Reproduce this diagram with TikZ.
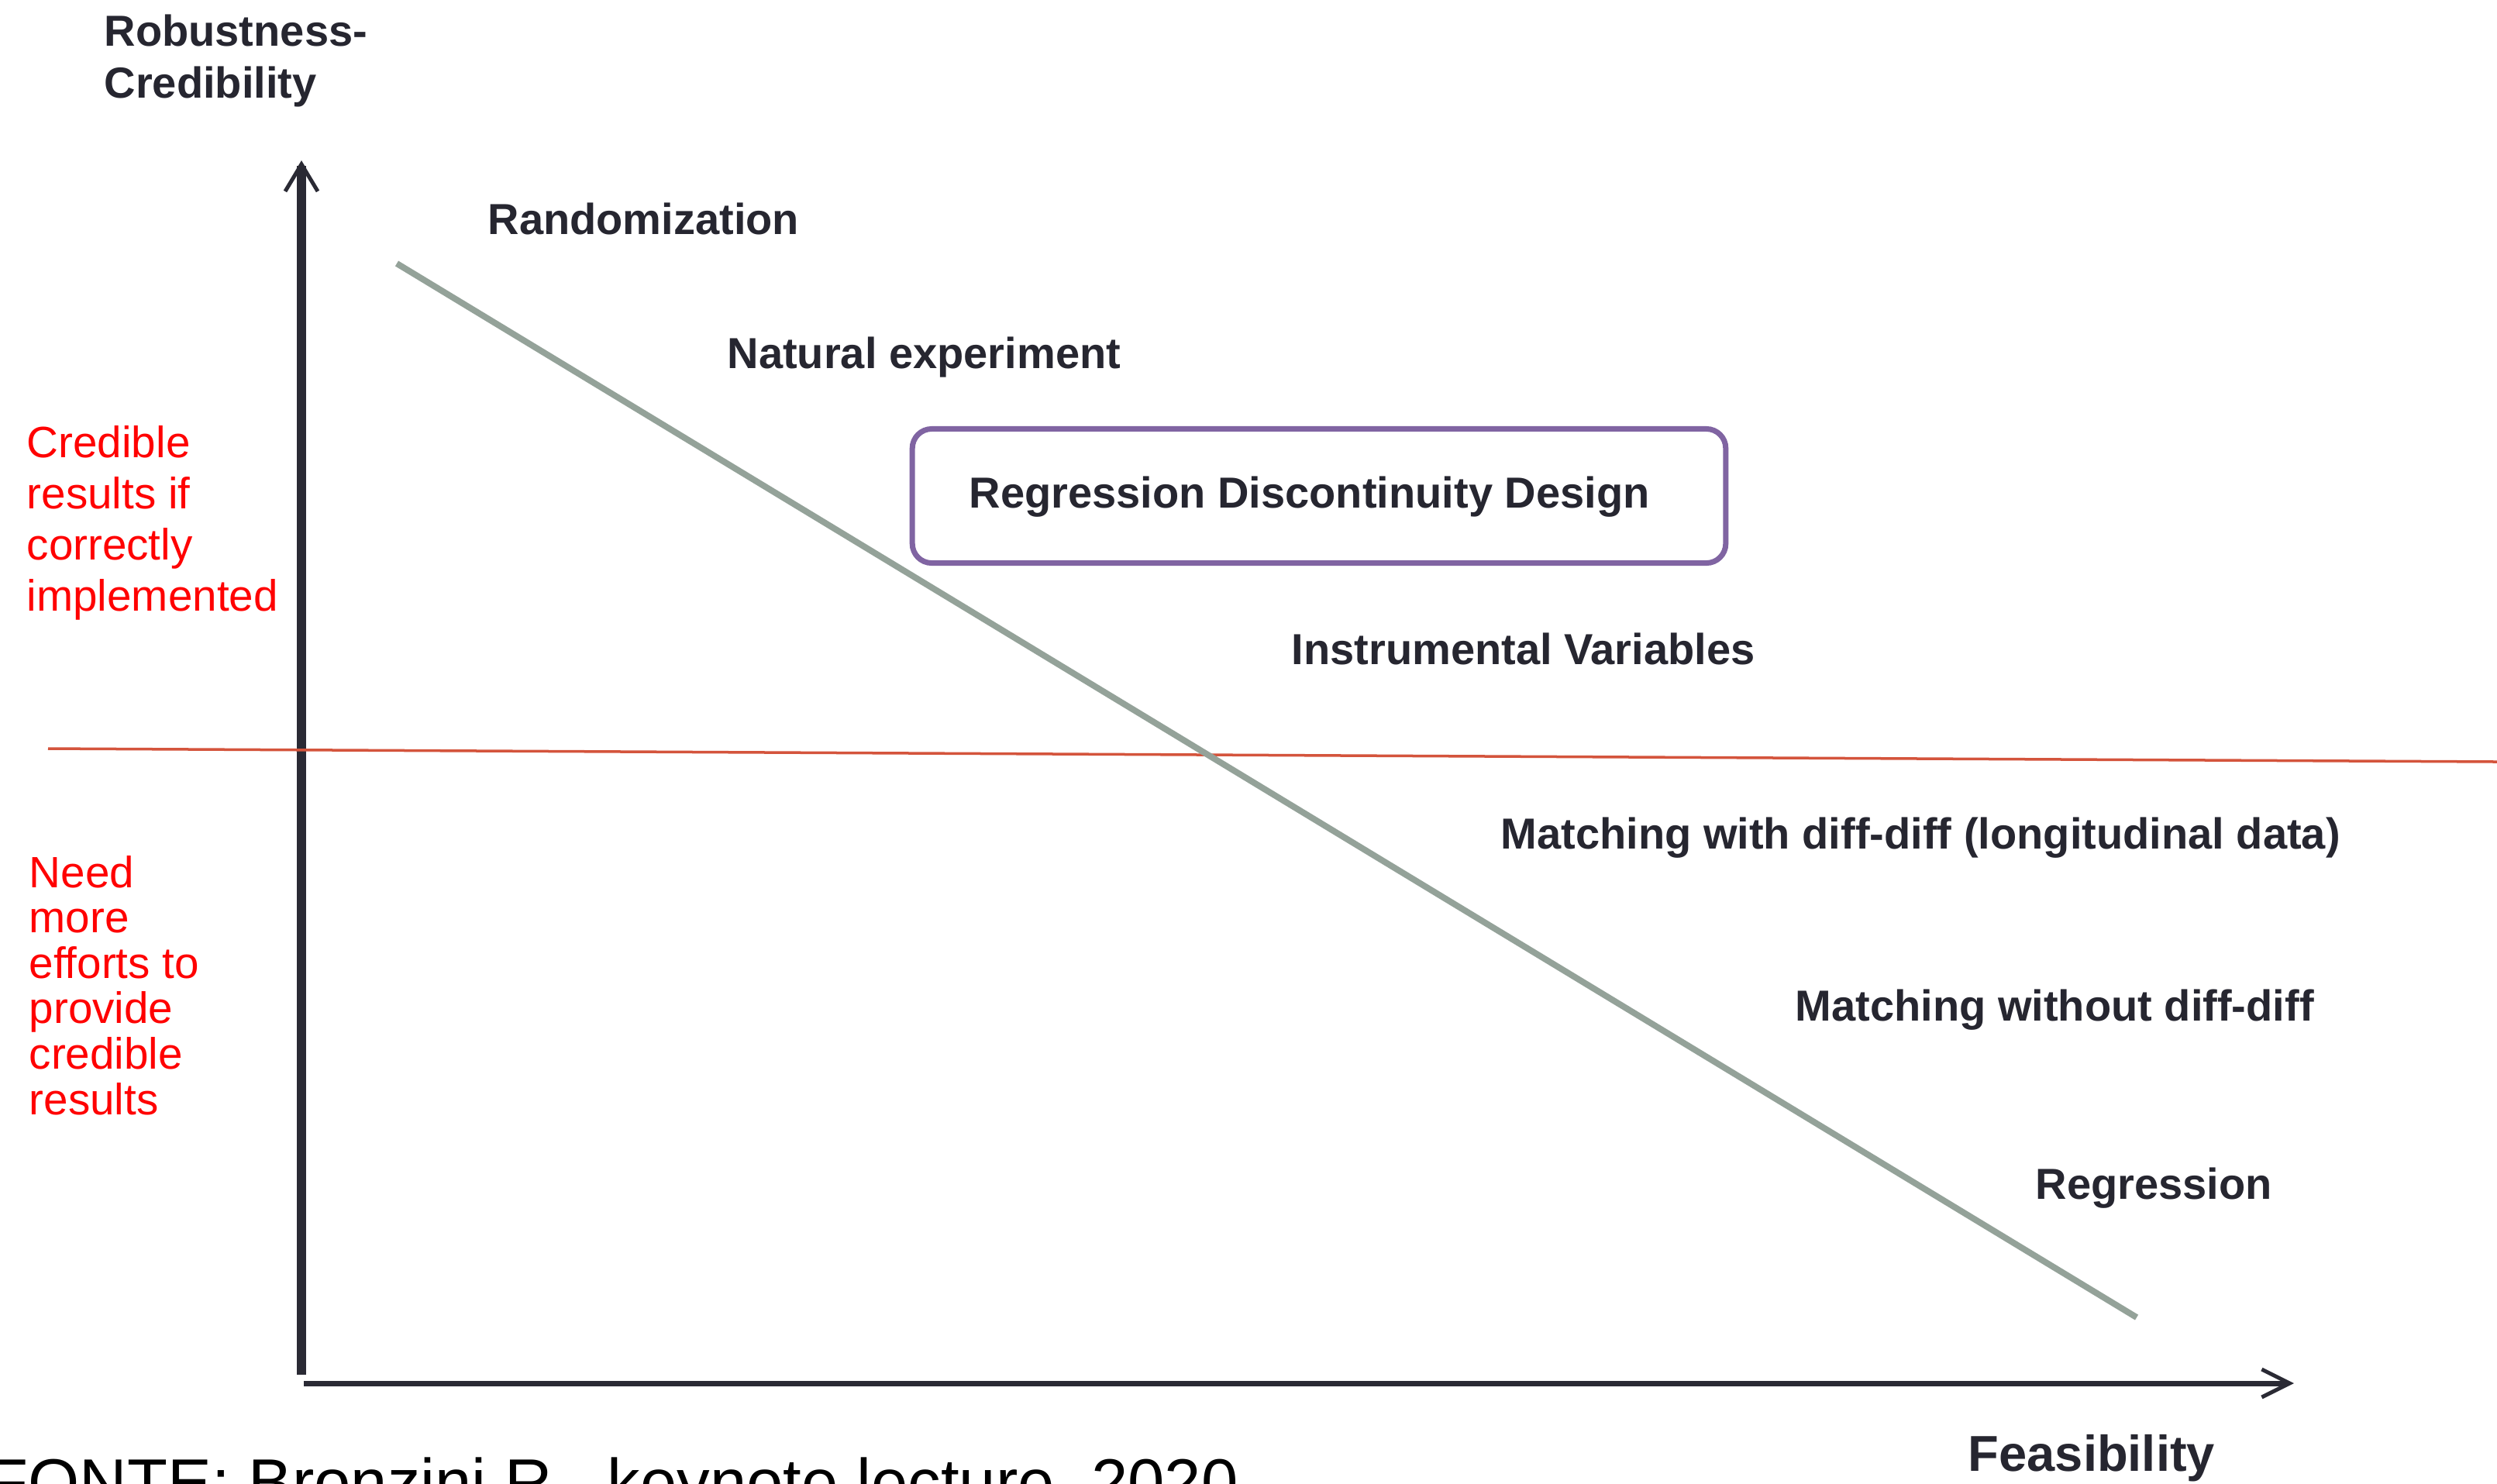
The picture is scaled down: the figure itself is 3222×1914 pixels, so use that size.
\documentclass[tikz,border=0pt]{standalone}
\usepackage{fontspec}
\setmainfont{Liberation Sans}
\usetikzlibrary{arrows.meta}

\definecolor{ink}{RGB}{38,38,48}
\definecolor{axisdark}{RGB}{42,42,52}
\definecolor{trendgrey}{RGB}{148,162,153}
\definecolor{thresholdred}{RGB}{212,84,60}
\definecolor{boxpurple}{RGB}{128,100,162}
\definecolor{notered}{RGB}{255,0,0}

% left-aligned multi-line label whose baseline is that of its first line
\newcommand{\linesleft}[1]{\begin{tabular}[t]{@{}l@{}}#1\end{tabular}}

\begin{document}
\begin{tikzpicture}[x=0.01cm,y=-0.01cm,
  method/.style={anchor=base west,inner sep=0pt,text=ink,
    font=\fontsize{15.93pt}{19.06pt}\selectfont\bfseries},
  axislabel/.style={method},
  bigaxislabel/.style={method,font=\fontsize{18.5pt}{22pt}\selectfont\bfseries},
  noteA/.style={anchor=base west,inner sep=0pt,text=notered,
    font=\fontsize{16.1pt}{18.86pt}\selectfont},
  noteB/.style={noteA,font=\fontsize{16.1pt}{16.67pt}\selectfont},
  source/.style={anchor=base west,inner sep=0pt,text=black,
    font=\fontsize{24.2pt}{28pt}\selectfont},
  axisline/.style={draw=axisdark,line cap=butt},
  framebox/.style={draw=boxpurple,line width=0.07cm,rounded corners=0.25cm,
    minimum width=10.49cm,minimum height=1.73cm,inner sep=0pt,fill=white},
]
\clip (0,0) rectangle (3222,1914);
\fill[white] (0,0) rectangle (3222,1914);

% axes
\coordinate (ybottom) at (389,1774);
\coordinate (ytop) at (389,207);
\coordinate (xleft) at (392,1785);
\coordinate (xright) at (2960,1785);
\draw[axisline,line width=0.12cm,
  -{Straight Barb[length=0.35cm,width=0.42cm,line width=0.05cm]}]
  (ybottom) -- (ytop);
\draw[axisline,line width=0.07cm,
  -{Straight Barb[length=0.36cm,width=0.36cm,line width=0.05cm]}]
  (xleft) -- (xright);

% credibility threshold
\coordinate (thrleft) at (62,966);
\coordinate (thrright) at (3222,983);
\draw[thresholdred,line width=0.035cm] (thrleft) -- (thrright);

% trade-off line
\coordinate (trendstart) at (512,340);
\coordinate (trendend) at (2757,1700);
\draw[trendgrey,line width=0.08cm] (trendstart) -- (trendend);

% highlighted method
\node[framebox] (rdd) at (1702,640) {};
\node[method] (rddtext) at (1250,655) {Regression Discontinuity Design};

% axis titles
\node[axislabel] (ytitle) at (134,59) {\linesleft{Robustness-\\Credibility}};
\node[bigaxislabel] (xtitle) at (2539,1898) {Feasibility};

% methods
\node[method] (rand) at (629,302) {Randomization};
\node[method] (natexp) at (938,475) {Natural experiment};
\node[method] (iv) at (1666,857) {Instrumental Variables};
\node[method] (matchdd) at (1936,1095) {Matching with diff-diff (longitudinal data)};
\node[method] (match) at (2316,1317) {Matching without diff-diff};
\node[method] (regr) at (2626,1547) {Regression};

% side notes
\node[noteA] (above) at (34,590)
  {\linesleft{Credible\\results if\\correctly\\implemented}};
\node[noteB] (below) at (37,1145)
  {\linesleft{Need\\more\\efforts to\\provide\\credible\\results}};

% source line
\node[source] (src) at (-16,1942) {FONTE: Bronzini R., keynote lecture, 2020};
\end{tikzpicture}
\end{document}
